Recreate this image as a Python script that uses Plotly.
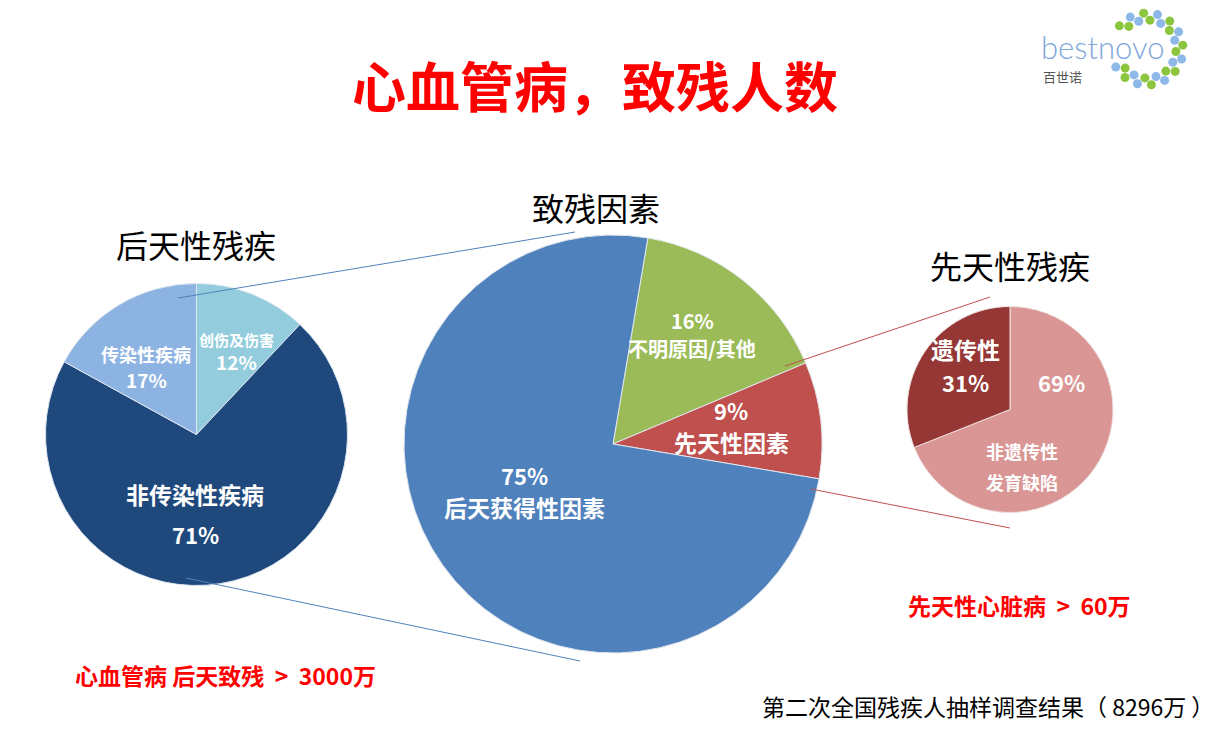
import math
import plotly.graph_objects as go

W, H = 1223, 732
FONT = "Noto Sans CJK SC"

# ---- data ----
left_labels = ["创伤及伤害", "非传染性疾病", "传染性疾病"]
left_values = [12, 71, 17]
mid_labels = ["不明原因/其他", "先天性因素", "后天获得性因素"]
mid_values = [16, 9, 75]
right_labels = ["非遗传性发育缺陷", "遗传性"]
right_values = [69, 31]

left_colors = ["#93CDDD", "#1F497D", "#8DB3E2"]
mid_colors = ["#9BBB59", "#C0504D", "#4F81BD"]
right_colors = ["#D99694", "#953735"]


def dom(cx, cy, r):
    return dict(x=[(cx - r) / W, (cx + r) / W], y=[1 - (cy + r) / H, 1 - (cy - r) / H])


fig = go.Figure()

# invisible pixel axis for decorations
fig.add_trace(go.Scatter(x=[0, W], y=[0, H], mode="markers", marker=dict(opacity=0),
                         hoverinfo="skip", showlegend=False))

# logo ring dots (decoration)
blue_l, green_l = "#8DB8E8", "#8CC63F"
lx, ly = 1147, 49
xs, ys, cs = [], [], []
n = 14
span = 290
for row, rr in enumerate([36, 29]):
    for i in range(n):
        a = math.radians(-150 + span * i / (n - 1) + row * span / (n - 1) / 2)
        if row == 1 and i == n - 1:
            continue
        xs.append(lx + rr * math.cos(a))
        ys.append(ly - rr * math.sin(a))
        cs.append(blue_l if (i + row) % 2 == 0 else green_l)
fig.add_trace(go.Scatter(x=xs, y=ys, mode="markers",
                         marker=dict(size=9, color=cs, symbol="circle"),
                         hoverinfo="skip", showlegend=False))

common = dict(sort=False, direction="clockwise", textinfo="none", hoverinfo="label+percent",
              showlegend=False)

fig.add_trace(go.Pie(labels=left_labels, values=left_values, rotation=0,
                     marker=dict(colors=left_colors, line=dict(color="#DDE6F0", width=1)),
                     domain=dom(196.5, 434.5, 151), **common))
fig.add_trace(go.Pie(labels=mid_labels, values=mid_values, rotation=9.6,
                     marker=dict(colors=mid_colors, line=dict(color="#E0E6EE", width=1)),
                     domain=dom(613, 444, 209), **common))
fig.add_trace(go.Pie(labels=right_labels, values=right_values, rotation=0,
                     marker=dict(colors=right_colors, line=dict(color="#F0E0E0", width=1)),
                     domain=dom(1010, 409.5, 103), **common))

ann = []


def txt(x, y, s, size, color="white", bold=True, family=FONT, xanchor="center"):
    ann.append(dict(x=x, y=y, xref="x", yref="y", text=s, showarrow=False,
                    xanchor=xanchor, yanchor="middle",
                    font=dict(family=family, size=size, color=color,
                              weight="bold" if bold else "normal")))


# title
txt(595, 84, "心血管病，致残人数", 54, color="#FF0000")
# section titles
txt(596, 207, "致残因素", 32, color="black", bold=False)
txt(196, 244, "后天性残疾", 32, color="black", bold=False)
txt(1010, 265, "先天性残疾", 32, color="black", bold=False)

# left pie labels
txt(236, 339, "创伤及伤害", 15)
txt(236, 361, "12%", 19)
txt(146, 354, "传染性疾病", 18)
txt(146, 379, "17%", 19)
txt(195, 494, "非传染性疾病", 23)
txt(195, 534, "71%", 22)
# middle pie labels
txt(692, 320, "16%", 20)
txt(692, 348, "不明原因/其他", 20)
txt(731, 410, "9%", 22)
txt(731, 442, "先天性因素", 23)
txt(524, 475, "75%", 22)
txt(524, 507, "后天获得性因素", 23)
# right pie labels
txt(965, 349, "遗传性", 23)
txt(965, 382, "31%", 22)
txt(1061, 382, "69%", 22)
txt(1022, 451, "非遗传性", 18)
txt(1022, 482, "发育缺陷", 18)

# notes
txt(73, 675, "心血管病 后天致残  &gt;  3000万", 23, color="#FF0000", xanchor="left")
txt(906, 605, "先天性心脏病  &gt;  60万", 23, color="#FF0000", xanchor="left")
txt(760, 706, "第二次全国残疾人抽样调查结果（ 8296万 ）", 23, color="black", bold=False, xanchor="left")

# logo text
ann.append(dict(x=1039, y=47, xref="x", yref="y", text="bestnovo", showarrow=False,
                xanchor="left", yanchor="middle",
                font=dict(family="Lato", size=31, color="#7EA7D9", weight=300)))
txt(1041, 76, "百世诺", 13, color="#555555", bold=False, xanchor="left")

shapes = [
    dict(type="line", xref="x", yref="y", x0=178, y0=298, x1=575, y1=232,
         line=dict(color="#4F81BD", width=1)),
    dict(type="line", xref="x", yref="y", x0=186, y0=578, x1=580, y1=661,
         line=dict(color="#4F81BD", width=1)),
    dict(type="line", xref="x", yref="y", x0=785, y0=366, x1=990, y1=297,
         line=dict(color="#C0504D", width=1)),
    dict(type="line", xref="x", yref="y", x0=811, y0=489, x1=1010, y1=528,
         line=dict(color="#C0504D", width=1)),
]

fig.update_layout(
    width=W, height=H, margin=dict(l=0, r=0, t=0, b=0),
    paper_bgcolor="white", plot_bgcolor="rgba(0,0,0,0)",
    xaxis=dict(range=[0, W], visible=False, domain=[0, 1], fixedrange=True),
    yaxis=dict(range=[H, 0], visible=False, domain=[0, 1], fixedrange=True),
    annotations=ann, shapes=shapes,
)

fig.write_html("out.html")
